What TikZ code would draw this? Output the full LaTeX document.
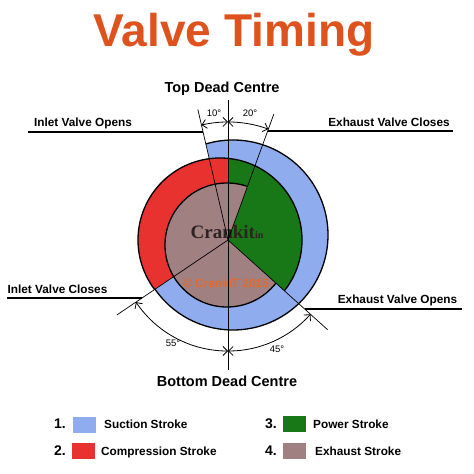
\documentclass[tikz,border=0pt]{standalone}
\usepackage{fontspec}
\setmainfont{Liberation Sans}
\newfontfamily\logofont{Liberation Serif}
\usetikzlibrary{arrows.meta}
\definecolor{suction}{RGB}{143,172,238}
\definecolor{compression}{RGB}{232,50,48}
\definecolor{power}{RGB}{24,120,24}
\definecolor{exhaust}{RGB}{160,128,128}
\definecolor{titlecol}{RGB}{222,82,30}
\definecolor{wmark}{RGB}{228,105,45}
\definecolor{logocol}{RGB}{45,35,35}
\newcommand\wedgeclip[2]{\clip (O) -- ++(#1:300pt) arc[start angle=#1,end angle=#2,radius=300pt] -- cycle;}
\begin{document}
\begin{tikzpicture}[x=1pt,y=1pt,
  outline/.style={line width=1.3pt},
  radial/.style={line width=0.7pt},
  labline/.style={line width=1.2pt},
  dimarc/.style={line width=0.8pt,{Straight Barb[length=4.5pt,width=9pt]}-{Straight Barb[length=4.5pt,width=9pt]}},
  lab/.style={font=\bfseries\fontsize{11.8}{12}\selectfont,inner sep=0pt,anchor=base},
  head/.style={font=\bfseries\fontsize{14.5}{15}\selectfont,inner sep=0pt,anchor=base},
  deg/.style={font=\fontsize{9.5}{10}\selectfont,inner sep=0pt,anchor=base},
  num/.style={font=\bfseries\fontsize{14}{14}\selectfont,inner sep=0pt,anchor=base},
  leg/.style={font=\bfseries\fontsize{11.8}{12}\selectfont,inner sep=0pt,anchor=base west}]
\path[use as bounding box,fill=white] (0,0) rectangle (474,474);

\coordinate (O) at (228,234);
\coordinate (Co) at (233,239);
\coordinate (Cb) at (220,234);
\coordinate (Cc) at (227,229);

% strokes regions
\begin{scope}\wedgeclip{103}{-146}
  \filldraw[fill=suction,outline] (Co) circle[radius=95pt];
\end{scope}
\begin{scope}\wedgeclip{90}{-42}
  \filldraw[fill=power,outline] (Cb) circle[radius=82pt];
\end{scope}
\begin{scope}\wedgeclip{-146}{-270}
  \filldraw[fill=compression,outline] (Cb) circle[radius=82pt];
\end{scope}
\begin{scope}\wedgeclip{-42}{-290}
  \filldraw[fill=exhaust,outline] (Cc) circle[radius=62pt];
\end{scope}

% watermark texts
\node[font=\logofont\bfseries\fontsize{19}{20}\selectfont,text=logocol,inner sep=0pt] (logo) at (227,242) {Crankit\fontsize{10}{10}\selectfont in};
\node[font=\bfseries\fontsize{11.8}{12}\selectfont,text=wmark,inner sep=0pt] (wm) at (226,191) {© CrankIT 2015};

% vertical and radial lines
\coordinate (tdc) at (228,374);
\coordinate (bdc) at (228,104);
\draw[radial] (tdc) -- (bdc);
\draw[radial] (O) -- ++(103:134pt) coordinate (ivo);
\draw[radial] (O) -- ++(70:134pt) coordinate (evc);
\draw[radial] (O) -- ++(-146:134pt) coordinate (ivc);
\draw[radial] (O) -- ++(-42:134pt) coordinate (evo);

% dimension arcs
\coordinate (at) at ([shift={(O)}]90:118pt);
\coordinate (ab) at ([shift={(O)}]-90:111pt);
\draw[dimarc] (at) arc[start angle=90,end angle=103,radius=118pt];
\draw[dimarc] (at) arc[start angle=90,end angle=70,radius=118pt];
\draw[dimarc] (ab) arc[start angle=-90,end angle=-146,radius=111pt];
\draw[dimarc] (ab) arc[start angle=-90,end angle=-42,radius=111pt];

% label lines
\coordinate (l1a) at (28,342);   \coordinate (l1b) at (203.1,342);
\coordinate (l2a) at (267.7,343); \coordinate (l2b) at (453,343);
\coordinate (l3a) at (7,176);    \coordinate (l3b) at (142,176);
\coordinate (l4a) at (304.6,165); \coordinate (l4b) at (462,165);
\draw[labline] (l1a) -- (l1b);
\draw[labline] (l2a) -- (l2b);
\draw[labline] (l3a) -- (l3b);
\draw[labline] (l4a) -- (l4b);

% texts
\node[font=\bfseries\fontsize{46}{46}\selectfont,text=titlecol,inner sep=0pt,anchor=base] (title) at (234,427) {Valve Timing};
\node[head] (tdcl) at (222,381) {Top Dead Centre};
\node[head] (bdcl) at (227,87) {Bottom Dead Centre};
\node[lab] (t1) at (83,347) {Inlet Valve Opens};
\node[lab] (t2) at (389,347) {Exhaust Valve Closes};
\node[lab] (t3) at (57.5,180) {Inlet Valve Closes};
\node[lab] (t4) at (397.5,170) {Exhaust Valve Opens};
\node[deg] (d1) at (214,357) {10°};
\node[deg] (d2) at (250,357) {20°};
\node[deg] (d3) at (173,127) {55°};
\node[deg] (d4) at (277,121) {45°};

% legend
\node[num] (n1) at (60,45) {1.};
\node[num] (n2) at (60,19) {2.};
\node[num] (n3) at (271,45) {3.};
\node[num] (n4) at (271,19) {4.};
\fill[suction] (73,57) rectangle (96,41);
\fill[compression] (72,31) rectangle (95,15);
\fill[power] (283,58) rectangle (306,42);
\fill[exhaust] (283,31) rectangle (306,15);
\node[leg] (s1) at (104,45) {Suction Stroke};
\node[leg] (s2) at (101,19) {Compression Stroke};
\node[leg] (s3) at (313,45) {Power Stroke};
\node[leg] (s4) at (315,19) {Exhaust Stroke};
\end{tikzpicture}
\end{document}
